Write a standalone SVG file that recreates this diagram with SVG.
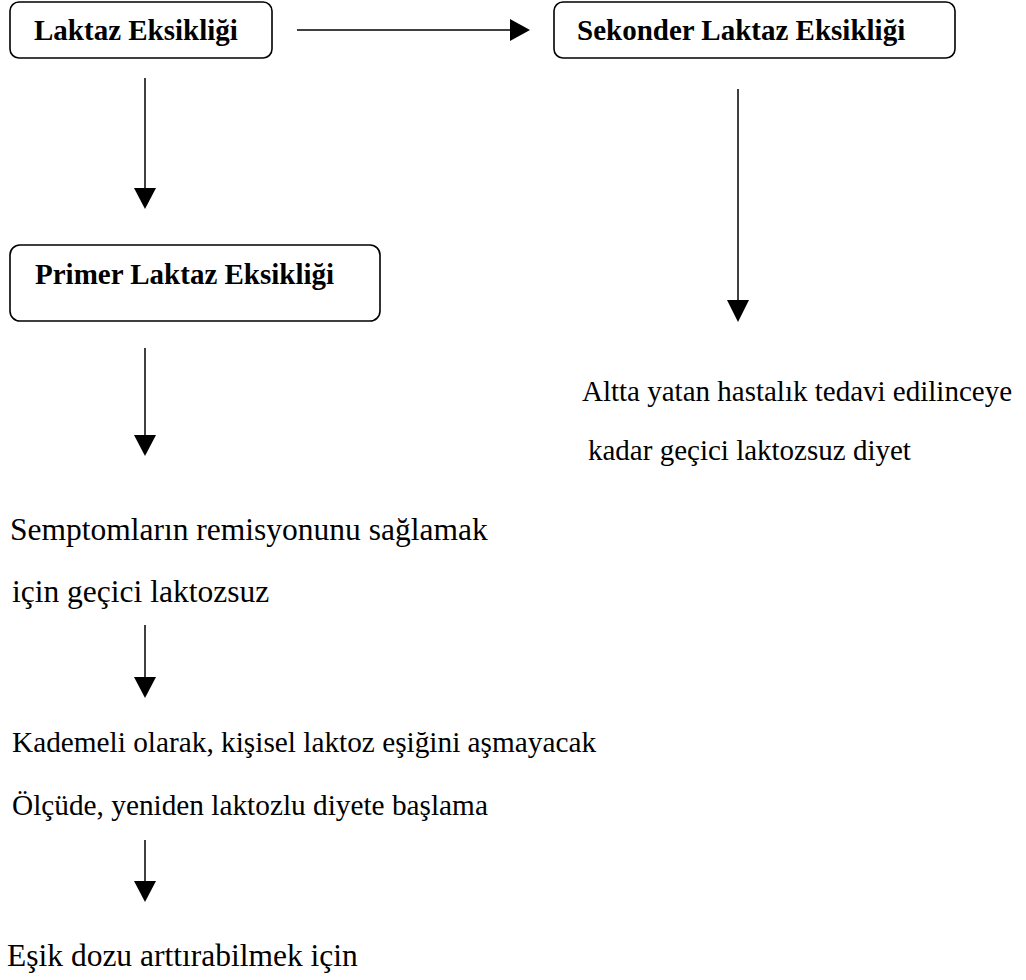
<svg xmlns="http://www.w3.org/2000/svg" width="1026" height="980" viewBox="0 0 1026 980">
<style>
.box{fill:#fff;stroke:#000;stroke-width:1.6}
text{font-family:"Liberation Serif","Times New Roman",serif;font-size:29px;fill:#000}
.b{font-weight:bold}
.lg{font-size:31.5px}
.md{font-size:29.3px}
.ln{stroke:#000;stroke-width:1.5;fill:none}
.hd{fill:#000}
</style>
<rect width="1026" height="980" fill="#fff"/>
<g id="connectors">
<line class="ln" x1="297" y1="30" x2="512" y2="30"/>
<polygon class="hd" points="510,19 530,30 510,41"/>
<line class="ln" x1="145" y1="78" x2="145" y2="190"/>
<polygon class="hd" points="134,188 156,188 145,209"/>
<line class="ln" x1="738" y1="89" x2="738" y2="302"/>
<polygon class="hd" points="727,300 749,300 738,322"/>
<line class="ln" x1="145" y1="348" x2="145" y2="437"/>
<polygon class="hd" points="134,435 156,435 145,456"/>
<line class="ln" x1="145" y1="625" x2="145" y2="679"/>
<polygon class="hd" points="134,677 156,677 145,698"/>
<line class="ln" x1="145" y1="840" x2="145" y2="883"/>
<polygon class="hd" points="134,881 156,881 145,902"/>
</g>
<g id="laktaz">
<rect class="box" x="10" y="2" width="262" height="56" rx="9"/>
<text class="b" x="34" y="40">Laktaz Eksikliği</text>
</g>
<g id="sekonder">
<rect class="box" x="554" y="2" width="401" height="56" rx="9"/>
<text class="b" x="577" y="40">Sekonder Laktaz Eksikliği</text>
</g>
<g id="primer">
<rect class="box" x="10" y="245" width="370" height="76" rx="10"/>
<text class="b" x="35" y="284">Primer Laktaz Eksikliği</text>
</g>
<g id="altta">
<text x="582" y="401">Altta yatan hastalık tedavi edilinceye</text>
<text x="588" y="460">kadar geçici laktozsuz diyet</text>
</g>
<g id="semptom">
<text class="lg" x="10" y="540">Semptomların remisyonunu sağlamak</text>
<text class="lg" x="12" y="602">için geçici laktozsuz</text>
</g>
<g id="kademeli">
<text class="md" x="12" y="752">Kademeli olarak, kişisel laktoz eşiğini aşmayacak</text>
<text class="md" x="12" y="815">Ölçüde, yeniden laktozlu diyete başlama</text>
</g>
<g id="esik">
<text class="lg" x="7" y="966">Eşik dozu arttırabilmek için</text>
</g>
</svg>
